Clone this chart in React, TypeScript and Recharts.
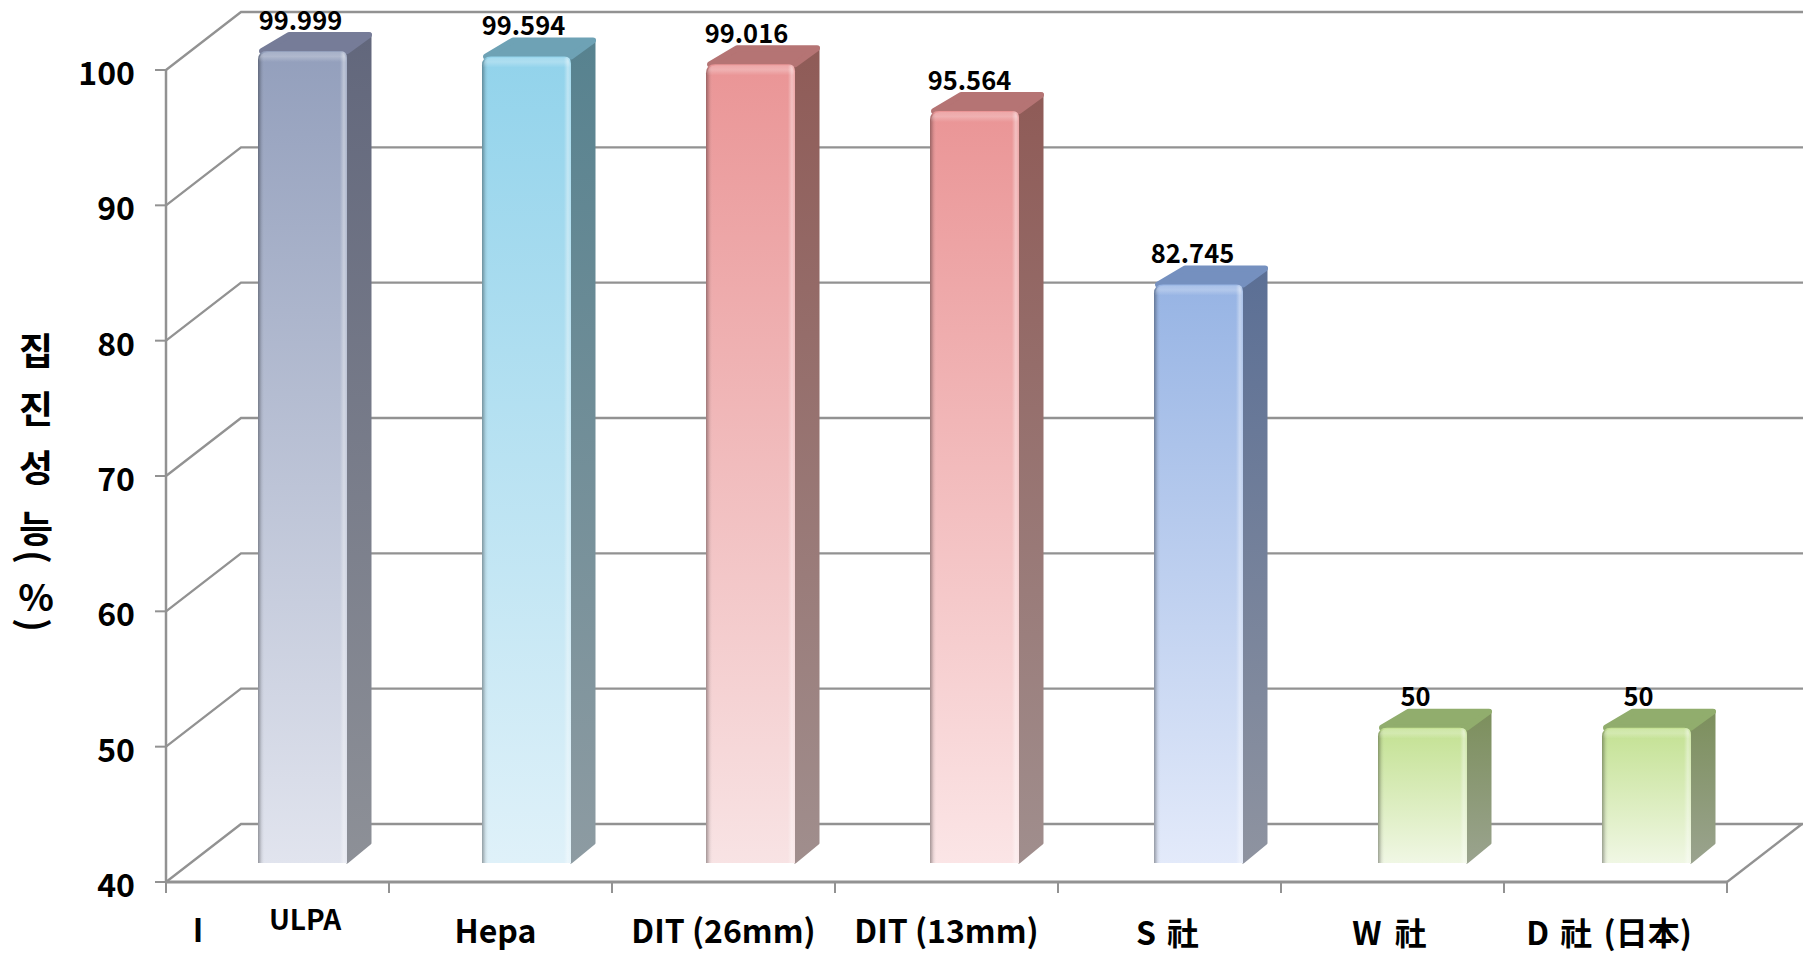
import React from "react";
import { ComposedChart, Bar, XAxis, YAxis, CartesianGrid, LabelList, Customized } from "recharts";

const categories = ["ULPA", "Hepa", "DIT (26mm)", "DIT (13mm)", "S 社", "W 社", "D 社 (日本)"];
const values = [99.999, 99.594, 99.016, 95.564, 82.745, 50, 50];
const valueLabels = ["99.999", "99.594", "99.016", "95.564", "82.745", "50", "50"];
const yTicks = [40, 50, 60, 70, 80, 90, 100];
const titleChars = ["집", "진", "성", "능", "(", "%", ")"];
const frontTop = ["#939fbc", "#92d3eb", "#ea9596", "#ea9596", "#97b4e4", "#c3e192", "#c3e192"];
const frontBottom = ["#e1e4ee", "#dff1f9", "#f8e3e4", "#fbe5e6", "#e3eafa", "#f0f7e4", "#f0f7e4"];
const sideTop = ["#62677c", "#57828f", "#8f5b57", "#8f5b57", "#5b6f95", "#7c8f5c", "#7c8f5c"];
const sideBottom = ["#8d9097", "#8d9ba2", "#a08e8d", "#a08e8d", "#8e93a0", "#9aa38e", "#9aa38e"];
const capColors = ["#767c98", "#6ea2b5", "#b57474", "#b57474", "#7590bf", "#91ad6d", "#91ad6d"];

const data = categories.map((name, i) => ({ name, value: values[i], label: valueLabels[i], index: i }));

const WIDTH = 1803;
const HEIGHT = 954;
const FONT = "'Noto Sans CJK KR', 'Noto Sans', sans-serif";
const GRID = "#929292";
const WALL_DX = 75;
const WALL_DY = -58;
const BAR_DX = 25;
const BAR_STEP_EXTRA = 1;
const BAR_DY = -19;
const DEPTH_X = 26;
const DEPTH_Y = -20;
const AXIS_Y = 882;

const tickShift = [
  { dx: 27.5, y: 918, size: 28, gap: 0 },
  { dx: -5, y: 929, size: 32, gap: 0 },
  { dx: 0, y: 929, size: 32, gap: 0 },
  { dx: 0, y: 929, size: 32, gap: 0 },
  { dx: -2, y: 931, size: 32, gap: 4 },
  { dx: -3, y: 931, size: 32, gap: 6 },
  { dx: -6.5, y: 931, size: 32, gap: 4 },
];
const titleY = [349, 407, 466, 527, 557, 595, 625];

function GridLine(props: any) {
  const { x1, x2, y1, y2 } = props;
  const wallX = x1 + WALL_DX;
  const wallY = y1 + WALL_DY;
  const end = x2 + WALL_DX + 1;
  const floor = y1 > 800;
  return (
    <g>
      <path d={`M${x1},${y1}L${wallX},${wallY}L${end},${wallY}`} fill="none" stroke={GRID} strokeWidth={2.3} />
      {floor ? <path d={`M${x2},${y2}L${x2 + WALL_DX},${y2 + WALL_DY}`} fill="none" stroke={GRID} strokeWidth={2.3} /> : null}
    </g>
  );
}

function Column(props: any) {
  const { x, y, width, height, payload } = props;
  const i = payload.index;
  const fx = x + BAR_DX + i * BAR_STEP_EXTRA;
  const fy = y + BAR_DY;
  const fr = fx + width;
  const fb = fy + height;
  const outline = `M${fx},${fb}L${fx},${fy + 9}Q${fx},${fy} ${fx + 9},${fy}L${fr - 7},${fy}Q${fr},${fy} ${fr},${fy + 7}L${fr},${fb}Z`;
  return (
    <g>
      <defs>
        <linearGradient id={`front${i}`} x1="0" y1="0" x2="0" y2="1">
          <stop offset="0" stopColor={frontTop[i]} />
          <stop offset="1" stopColor={frontBottom[i]} />
        </linearGradient>
        <linearGradient id={`side${i}`} x1="0" y1="0" x2="0" y2="1">
          <stop offset="0" stopColor={sideTop[i]} />
          <stop offset="1" stopColor={sideBottom[i]} />
        </linearGradient>
        <linearGradient id={`edge${i}`} x1="0" y1="0" x2="1" y2="0">
          <stop offset="0" stopColor="#000" stopOpacity={0.34} />
          <stop offset="0.04" stopColor="#000" stopOpacity={0.08} />
          <stop offset="0.08" stopColor="#fff" stopOpacity={0} />
          <stop offset="0.92" stopColor="#fff" stopOpacity={0} />
          <stop offset="0.965" stopColor="#fff" stopOpacity={0.4} />
          <stop offset="1" stopColor="#fff" stopOpacity={0.15} />
        </linearGradient>
        <linearGradient id={`shine${i}`} x1="0" y1="0" x2="0" y2="1">
          <stop offset="0" stopColor="#fff" stopOpacity={0.18} />
          <stop offset="0.45" stopColor="#fff" stopOpacity={0.26} />
          <stop offset="1" stopColor="#fff" stopOpacity={0} />
        </linearGradient>
      </defs>
      <path
        d={`M${fr},${fy + 2}L${fr + DEPTH_X - 3},${fy + DEPTH_Y + 3}L${fr + DEPTH_X - 3},${fb + DEPTH_Y}L${fr},${fb - 1}Z`}
        fill={`url(#side${i})`}
        stroke={`url(#side${i})`}
        strokeWidth={3}
        strokeLinejoin="round"
      />
      <path
        d={`M${fx + 4},${fy}L${fx + DEPTH_X + 5},${fy + DEPTH_Y + 4}L${fr + DEPTH_X - 4},${fy + DEPTH_Y + 4}L${fr},${fy}Z`}
        fill={capColors[i]}
        stroke={capColors[i]}
        strokeWidth={6}
        strokeLinejoin="round"
      />
      <path d={outline} fill={`url(#front${i})`} />
      <path d={outline} fill={`url(#edge${i})`} />
      <path
        d={`M${fx + 1},${fy + 11}Q${fx + 1},${fy + 1} ${fx + 10},${fy + 1}L${fr - 7},${fy + 1}Q${fr - 1},${fy + 1} ${fr - 1},${fy + 11}Z`}
        fill={`url(#shine${i})`}
      />
    </g>
  );
}

function ValueLabel(props: any) {
  const { x, y, width, value } = props;
  return (
    <text
      x={x + width / 2 + 23}
      y={y - 52}
      textAnchor="middle"
      dominantBaseline="central"
      fontFamily={FONT}
      fontWeight={700}
      fontSize={25.5}
      fill="#000"
    >
      {value}
    </text>
  );
}

function CategoryTick(props: any) {
  const { x, width, payload, index } = props;
  const shift = tickShift[index] ?? tickShift[0];
  const step = width / categories.length;
  const left = x - step / 2;
  const right = x + step / 2;
  const last = index === categories.length - 1;
  return (
    <g>
      <line x1={left} x2={left} y1={AXIS_Y} y2={AXIS_Y + 11} stroke={GRID} strokeWidth={2} />
      {last ? <line x1={right} x2={right} y1={AXIS_Y} y2={AXIS_Y + 11} stroke={GRID} strokeWidth={2} /> : null}
      {index === 0 ? (
        <text x={198} y={928} textAnchor="middle" dominantBaseline="central" fontFamily={FONT} fontWeight={700} fontSize={32} fill="#000">
          I
        </text>
      ) : null}
      <text
        x={x + shift.dx}
        y={shift.y}
        textAnchor="middle"
        dominantBaseline="central"
        fontFamily={FONT}
        fontWeight={700}
        fontSize={shift.size}
        wordSpacing={shift.gap}
        fill="#000"
      >
        {payload.value}
      </text>
    </g>
  );
}

function ValueTick(props: any) {
  const { y, payload } = props;
  return (
    <text x={135} y={y + 1} textAnchor="end" dominantBaseline="central" fontFamily={FONT} fontWeight={700} fontSize={32} fill="#000">
      {payload.value}
    </text>
  );
}

function AxisTitle() {
  return (
    <g>
      {titleChars.map((c, i) => {
        const rotated = c === "(" || c === ")";
        return (
          <text
            key={i}
            x={36}
            y={titleY[i]}
            textAnchor="middle"
            dominantBaseline="central"
            fontFamily={FONT}
            fontWeight={700}
            fontSize={37}
            fill="#000"
            transform={rotated ? `rotate(90 36 ${titleY[i]})` : undefined}
          >
            {c}
          </text>
        );
      })}
    </g>
  );
}

export default function App() {
  return (
    <div style={{ position: "fixed", left: 0, top: 0, width: WIDTH, height: HEIGHT, background: "#fff", overflow: "hidden" }}>
      <ComposedChart
        width={WIDTH}
        height={HEIGHT}
        data={data}
        margin={{ top: 70, right: 76, bottom: 0, left: 0 }}
        style={{ background: "#fff" }}
      >
        <CartesianGrid vertical={false} horizontal={(p: any) => <GridLine key={p.key} {...p} />} syncWithTicks />
        <XAxis
          dataKey="name"
          height={72}
          interval={0}
          axisLine={{ stroke: GRID, strokeWidth: 3 }}
          tickLine={false}
          tick={<CategoryTick />}
        />
        <YAxis
          domain={[40, 100]}
          ticks={yTicks}
          width={166}
          interval={0}
          axisLine={{ stroke: GRID, strokeWidth: 2.5 }}
          tickSize={11}
          tickLine={{ stroke: GRID, strokeWidth: 2 }}
          tick={<ValueTick />}
        />
        <Bar dataKey="value" barSize={89} isAnimationActive={false} shape={<Column />}>
          <LabelList dataKey="label" content={<ValueLabel />} />
        </Bar>
        <Customized component={AxisTitle} />
      </ComposedChart>
    </div>
  );
}
